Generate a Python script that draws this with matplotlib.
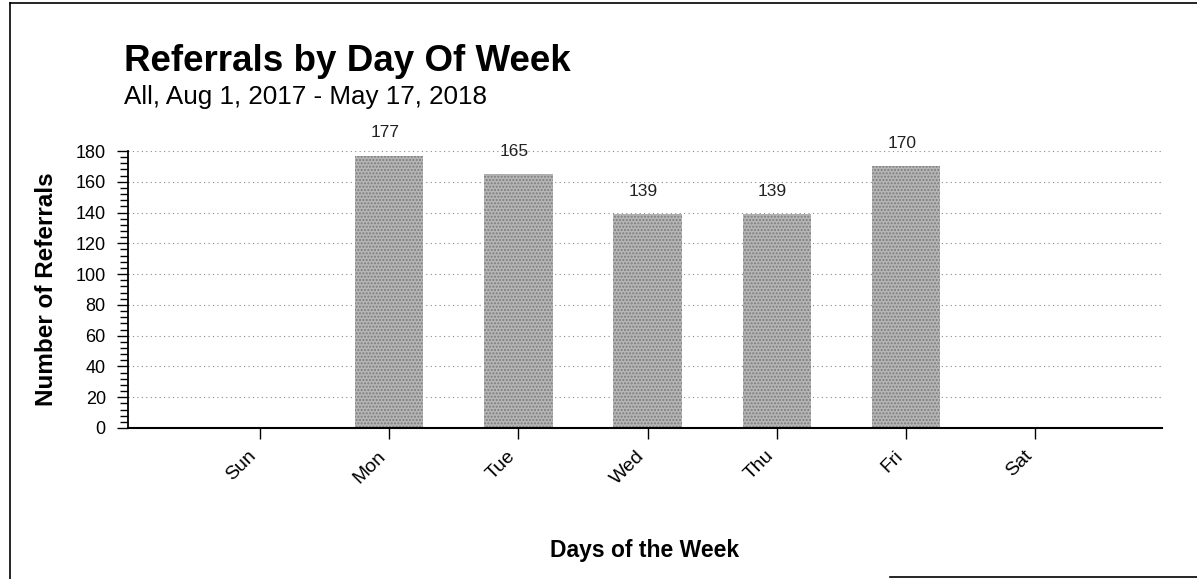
import matplotlib
matplotlib.use("Agg")
import matplotlib.pyplot as plt
from matplotlib.ticker import MultipleLocator
from matplotlib.lines import Line2D

days = ["Sun", "Mon", "Tue", "Wed", "Thu", "Fri", "Sat"]
referrals = [0, 177, 165, 139, 139, 170, 0]
y_ticks = [0, 20, 40, 60, 80, 100, 120, 140, 160, 180]

title = "Referrals by Day Of Week"
subtitle = "All, Aug 1, 2017 - May 17, 2018"
xlabel = "Days of the Week"
ylabel = "Number of Referrals"

plt.rcParams['font.family'] = ['Liberation Sans', 'DejaVu Sans']

fig = plt.figure(figsize=(11.97, 5.79), dpi=100)
ax = fig.add_axes([128/1197, 1 - 428/579, (1162-128)/1197, (428-151)/579])

x = list(range(len(days)))
bars = ax.bar(x, referrals, width=0.53, color="#b6b6b6", edgecolor="#7c7c7c",
              linewidth=0, hatch=".....", zorder=2)

for xi, v in zip(x, referrals):
    if v > 0:
        ax.annotate(str(v), (xi, v), xytext=(-3, 11), textcoords="offset points",
                    ha="center", va="bottom", fontsize=12.5, color="#222222")

ax.set_xlim(-1.02, 6.98)
ax.set_ylim(0, 180)
ax.set_yticks(y_ticks)
ax.yaxis.set_minor_locator(MultipleLocator(4))
ax.set_xticks(x)
ax.set_xticklabels(days, rotation=45, ha="right", fontsize=14)
ax.tick_params(axis="y", which="major", length=8, width=1, labelsize=13, pad=8)
ax.tick_params(axis="y", which="minor", length=6, width=1)
ax.tick_params(axis="x", which="major", length=8, width=1, pad=6)

for s in ["top", "right"]:
    ax.spines[s].set_visible(False)
ax.spines["left"].set_linewidth(1.3)
ax.spines["bottom"].set_linewidth(1.5)

ax.yaxis.grid(True, which="major", linestyle=(0, (1, 3)), color="#888888", linewidth=0.8, zorder=0)
ax.set_axisbelow(True)

ax.set_xlabel(xlabel, fontsize=16.5, fontweight="bold")
ax.xaxis.set_label_coords(0.5, -0.40)
ax.set_ylabel(ylabel, fontsize=17.5, fontweight="bold")
ax.yaxis.set_label_coords(-0.068, 0.5)

fig.text(124/1197, 1 - 44/579, title, fontsize=26.5, fontweight="bold", va="top", ha="left")
fig.text(124/1197, 1 - 85/579, subtitle, fontsize=18.7, va="top", ha="left")

# page border from the scan
fig.add_artist(Line2D([10/1197, 10/1197], [0, 1 - 3/579], transform=fig.transFigure, color="black", linewidth=1.2))
fig.add_artist(Line2D([10/1197, 1], [1 - 3/579, 1 - 3/579], transform=fig.transFigure, color="black", linewidth=1.2))
fig.add_artist(Line2D([890/1197, 1], [1 - 577/579, 1 - 577/579], transform=fig.transFigure, color="black", linewidth=1.2))

fig.savefig("out.png", dpi=100)
